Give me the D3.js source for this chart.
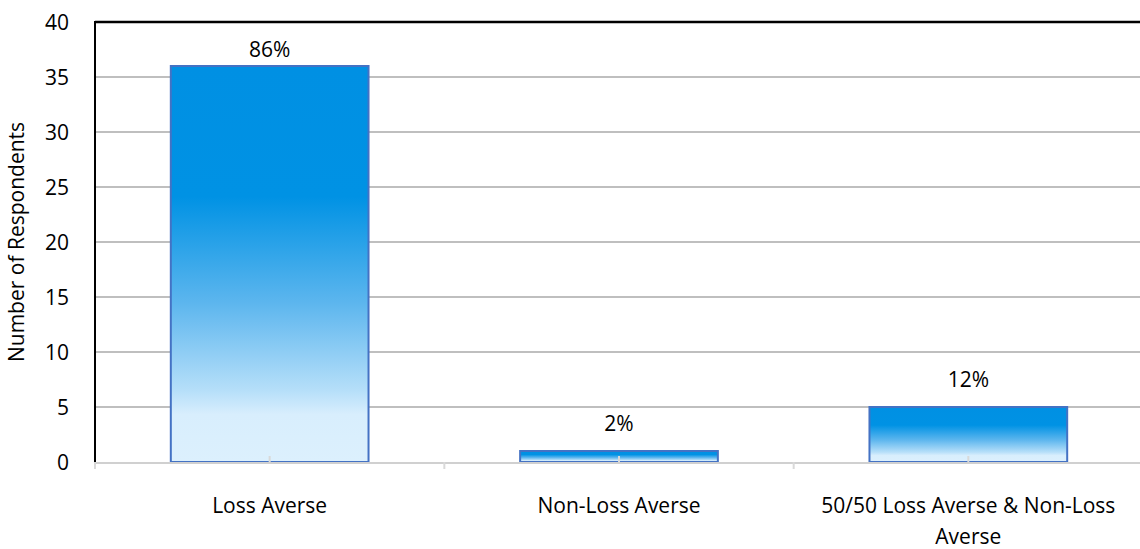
<!DOCTYPE html>
<html>
<head>
<meta charset="utf-8">
<script src="https://cdn.jsdelivr.net/npm/d3@7"></script>
<style>
  body { margin: 0; background: #fff; overflow: hidden; }
  text { font-family: "Open Sans", "Noto Sans", sans-serif; fill: #000; }
</style>
</head>
<body>
<svg id="chart" width="1140" height="549"></svg>
<script>
// data
const categories = ["Loss Averse", "Non-Loss Averse", "50/50 Loss Averse & Non-Loss Averse"];
const respondents = [36, 1, 5];
const percentLabels = ["86%", "2%", "12%"];
const yTicks = [0, 5, 10, 15, 20, 25, 30, 35, 40];

const width = 1140;
const height = 549;
const margin = {top: 22, right: -3, bottom: 87, left: 95};
const fs = 21;

const svg = d3.select("#chart");

const x = d3.scaleBand()
  .domain(categories)
  .range([margin.left, width - margin.right])
  .paddingInner(0.434)
  .paddingOuter(0.217);

const xOuter = d3.scaleBand()
  .domain(categories)
  .range([margin.left, width - margin.right]);

const y = d3.scaleLinear()
  .domain([0, 40])
  .range([height - margin.bottom, margin.top]);

// bar gradient: dark at top, fading to pale at bottom
const defs = svg.append("defs");
const grad = defs.append("linearGradient")
  .attr("id", "barGrad")
  .attr("x1", 0).attr("y1", 0).attr("x2", 0).attr("y2", 1);
grad.append("stop").attr("offset", "0%").attr("stop-color", "#0090e3");
grad.append("stop").attr("offset", "33%").attr("stop-color", "#0092e4");
grad.append("stop").attr("offset", "60%").attr("stop-color", "#5db6ee");
grad.append("stop").attr("offset", "82%").attr("stop-color", "#b6dff9");
grad.append("stop").attr("offset", "88%").attr("stop-color", "#d8eefd");
grad.append("stop").attr("offset", "100%").attr("stop-color", "#dcf0fd");

// gridlines
svg.append("g")
  .selectAll("line")
  .data(yTicks.filter(d => d > 0))
  .join("line")
  .attr("x1", margin.left)
  .attr("x2", width)
  .attr("y1", d => y(d))
  .attr("y2", d => y(d))
  .attr("stroke", d => d === 40 ? "#000" : "#bfbfbf")
  .attr("stroke-width", d => d === 40 ? 2.5 : 2);

// bars
svg.append("g")
  .selectAll("rect")
  .data(respondents)
  .join("rect")
  .attr("x", (d, i) => x(categories[i]))
  .attr("y", d => y(d))
  .attr("width", x.bandwidth())
  .attr("height", d => y(0) - y(d))
  .attr("fill", "url(#barGrad)")
  .attr("stroke", "#4472c4")
  .attr("stroke-width", 2);

// small marks at bar centers
svg.append("g")
  .selectAll("line")
  .data(categories)
  .join("line")
  .attr("x1", d => x(d) + x.bandwidth() / 2)
  .attr("x2", d => x(d) + x.bandwidth() / 2)
  .attr("y1", y(0))
  .attr("y2", y(0) - 6)
  .attr("stroke", "#d9d9d9")
  .attr("stroke-width", 2);

// x axis
const xAxisG = svg.append("g");
xAxisG.append("line")
  .attr("x1", margin.left)
  .attr("x2", width)
  .attr("y1", y(0) + 1)
  .attr("y2", y(0) + 1)
  .attr("stroke", "#d0d0d0")
  .attr("stroke-width", 2);
const boundaries = categories.map(c => xOuter(c));
xAxisG.selectAll(".tk")
  .data(boundaries)
  .join("line")
  .attr("class", "tk")
  .attr("x1", d => d)
  .attr("x2", d => d)
  .attr("y1", y(0))
  .attr("y2", y(0) + 7)
  .attr("stroke", "#d9d9d9")
  .attr("stroke-width", 2);

// category labels (wrapped)
const wrapped = [["Loss Averse"], ["Non-Loss Averse"], ["50/50 Loss Averse & Non-Loss", "Averse"]];
svg.append("g")
  .selectAll("text")
  .data(categories)
  .join("text")
  .attr("x", d => xOuter(d) + xOuter.bandwidth() / 2)
  .attr("y", 513)
  .attr("text-anchor", "middle")
  .attr("font-size", fs)
  .each(function(d, i) {
    d3.select(this).selectAll("tspan")
      .data(wrapped[i])
      .join("tspan")
      .attr("x", xOuter(d) + xOuter.bandwidth() / 2)
      .attr("dy", (t, j) => j === 0 ? 0 : 31)
      .text(t => t);
  });

// y axis
const yAxisG = svg.append("g")
  .attr("transform", `translate(${margin.left},0)`)
  .call(d3.axisLeft(y).tickValues(yTicks).tickSize(0).tickPadding(26));
yAxisG.select(".domain").remove();
yAxisG.selectAll("text")
  .attr("font-size", fs)
  .attr("font-family", "\"Open Sans\", sans-serif")
  .attr("fill", "#000")
  .attr("dy", "0.36em");
svg.append("line")
  .attr("x1", margin.left)
  .attr("x2", margin.left)
  .attr("y1", margin.top - 1)
  .attr("y2", y(0))
  .attr("stroke", "#000")
  .attr("stroke-width", 2);

// value labels (top label kept inside the plot, as in the reference)
svg.append("g")
  .selectAll("text")
  .data(respondents)
  .join("text")
  .attr("x", (d, i) => x(categories[i]) + x.bandwidth() / 2)
  .attr("y", d => Math.max(y(d) - 20, 57))
  .attr("text-anchor", "middle")
  .attr("font-size", fs)
  .text((d, i) => percentLabels[i]);

// y title
svg.append("text")
  .attr("transform", `translate(24,${(margin.top + y(0)) / 2}) rotate(-90)`)
  .attr("text-anchor", "middle")
  .attr("font-size", fs)
  .text("Number of Respondents");
</script>
</body>
</html>
